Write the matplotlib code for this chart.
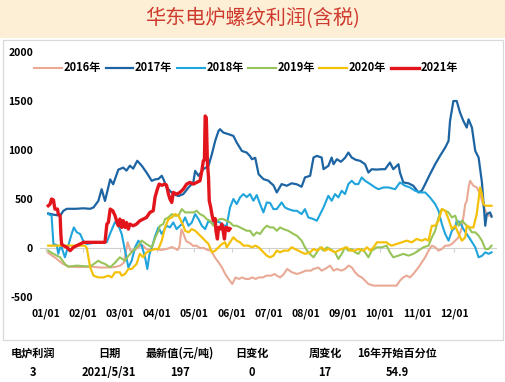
import matplotlib
matplotlib.use("Agg")
import matplotlib.pyplot as plt
from matplotlib.patches import Rectangle

plt.rcParams['font.family'] = ['Noto Sans CJK SC', 'DejaVu Sans']

# ---------------- data (x in month units: 0 = 01/01, 1 = 02/01, ...) ----------------
month_labels = ["01/01", "02/01", "03/01", "04/01", "05/01", "06/01",
                "07/01", "08/01", "09/01", "10/01", "11/01", "12/01"]
y_ticks = [-500, 0, 500, 1000, 1500, 2000]

x2016 = [0.06,0.25,0.45,0.6,0.9,1.2,1.5,1.85,2.0,2.1,2.2,2.28,2.4,2.5,2.6,2.7,2.8,2.95,3.1,3.25,3.4,3.55,3.6,3.65,3.7,3.78,3.88,3.97,4.05,4.15,4.25,4.35,4.45,4.55,4.65,4.74,4.83,4.92,5.02,5.11,5.2,5.29,5.38,5.47,5.56,5.65,5.74,5.85,5.94,6.07,6.16,6.22,6.31,6.4,6.5,6.63,6.77,6.9,7.0,7.14,7.21,7.34,7.43,7.52,7.66,7.75,7.84,7.97,8.06,8.15,8.24,8.33,8.42,8.51,8.6,8.69,8.83,8.96,9.1,9.32,9.45,9.54,9.63,9.72,9.81,9.9,10.04,10.13,10.22,10.31,10.4,10.49,10.58,10.67,10.76,10.85,10.94,11.03,11.12,11.21,11.3,11.34,11.39,11.43,11.52,11.61,11.7,11.75,11.84,11.93,12.01]
v2016 = [-50,-100,-160,-190,-195,-190,-200,-195,-180,-150,60,-30,-20,10,30,-10,-20,-10,-20,-10,10,-20,20,190,150,70,50,20,25,0,0,-20,-25,-95,-146,-197,-265,-316,-367,-300,-316,-300,-316,-316,-300,-316,-300,-300,-282,-282,-265,-282,-300,-270,-214,-248,-265,-248,-231,-231,-214,-200,-231,-214,-180,-231,-214,-231,-214,-180,-197,-248,-282,-300,-333,-367,-384,-384,-384,-384,-384,-333,-300,-282,-300,-265,-197,-146,-95,-27,24,7,-27,-10,24,24,41,75,109,210,448,480,618,686,635,618,550,482,380,330,330]

x2017 = [0.06,0.2,0.38,0.47,0.56,0.8,1.0,1.19,1.28,1.41,1.5,1.59,1.73,1.81,1.95,2.08,2.17,2.26,2.35,2.46,2.58,2.71,2.85,2.94,3.03,3.12,3.18,3.25,3.43,3.57,3.7,3.84,3.97,4.02,4.11,4.24,4.38,4.47,4.56,4.65,4.69,4.78,4.92,5.05,5.14,5.28,5.41,5.5,5.55,5.64,5.73,5.86,6.0,6.04,6.13,6.22,6.35,6.49,6.62,6.76,6.89,6.98,7.12,7.21,7.3,7.43,7.48,7.61,7.7,7.75,7.84,7.95,8.06,8.15,8.24,8.35,8.47,8.6,8.69,8.78,8.9,9.05,9.14,9.27,9.36,9.5,9.54,9.63,9.77,9.9,10.04,10.13,10.22,10.35,10.49,10.62,10.76,10.85,10.89,10.98,11.07,11.16,11.25,11.34,11.39,11.48,11.57,11.66,11.75,11.84,11.88,11.97,12.01]
v2017 = [353,340,330,380,400,400,405,400,414,480,600,480,700,650,800,820,790,840,810,890,840,770,685,700,705,737,690,617,550,530,550,617,670,787,737,804,838,957,1093,1195,1212,1178,1161,1144,1076,990,974,937,906,920,753,703,686,669,640,567,652,635,660,650,625,720,737,923,940,923,805,838,923,855,906,880,920,974,923,900,889,855,770,804,800,804,804,872,804,855,770,669,660,635,567,585,652,753,855,940,1025,1093,1296,1500,1500,1381,1296,1229,1313,1229,991,923,669,227,346,363,320]

x2018 = [0.06,0.15,0.2,0.29,0.33,0.4,0.51,0.6,0.69,0.75,0.83,0.92,1.0,1.1,1.25,1.45,1.64,1.73,1.86,1.95,2.04,2.13,2.22,2.31,2.4,2.49,2.58,2.67,2.73,2.79,2.85,2.94,3.03,3.12,3.25,3.34,3.43,3.52,3.66,3.75,3.84,3.93,4.02,4.11,4.2,4.29,4.38,4.51,4.6,4.69,4.78,4.87,4.96,5.05,5.14,5.23,5.32,5.41,5.5,5.59,5.68,5.77,5.86,5.95,6.04,6.13,6.22,6.35,6.44,6.53,6.67,6.76,6.89,6.98,7.07,7.21,7.3,7.39,7.48,7.61,7.7,7.79,7.88,7.97,8.06,8.15,8.24,8.33,8.42,8.51,8.6,8.74,8.87,8.96,9.1,9.23,9.41,9.54,9.68,9.81,9.95,10.08,10.22,10.35,10.49,10.58,10.67,10.76,10.85,10.94,11.03,11.07,11.16,11.25,11.34,11.43,11.57,11.66,11.75,11.84,11.93,12.01]
v2018 = [346,330,40,30,-60,30,-95,24,143,210,160,143,75,40,50,55,60,150,265,230,143,-27,-197,-130,7,75,24,-95,-214,-60,0,120,210,143,227,210,261,193,244,312,227,260,346,295,227,193,278,244,270,261,230,227,414,500,448,516,550,520,550,482,540,448,363,465,460,397,397,465,414,397,380,380,346,397,312,295,278,346,414,533,482,550,516,584,550,652,686,652,652,720,686,652,618,600,618,618,600,669,635,618,584,567,567,516,448,380,244,143,75,176,210,280,260,193,143,92,7,-95,-80,-44,-60,-44]

x2019 = [0.06,0.2,0.38,0.51,0.6,0.83,1.19,1.41,1.5,1.59,1.73,1.86,1.99,2.13,2.22,2.35,2.49,2.58,2.71,2.85,2.94,3.03,3.07,3.16,3.21,3.3,3.39,3.48,3.57,3.66,3.75,3.84,3.97,4.06,4.15,4.24,4.33,4.42,4.51,4.6,4.69,4.78,4.87,4.96,5.05,5.14,5.23,5.32,5.41,5.5,5.59,5.68,5.77,5.86,5.95,6.04,6.13,6.22,6.31,6.4,6.53,6.67,6.76,6.89,6.98,7.07,7.21,7.3,7.39,7.48,7.57,7.66,7.79,7.88,7.97,8.06,8.15,8.24,8.33,8.42,8.51,8.6,8.69,8.78,8.92,9.05,9.18,9.27,9.36,9.5,9.63,9.77,9.9,10.04,10.17,10.31,10.4,10.49,10.58,10.67,10.76,10.85,10.94,11.03,11.12,11.21,11.3,11.39,11.48,11.57,11.66,11.75,11.84,11.93,12.01]
v2019 = [-27,-60,-95,-163,-190,-180,-190,-130,-150,-163,-197,-150,-95,-130,-80,-27,24,75,40,7,100,176,227,244,295,312,346,330,330,397,363,363,363,380,346,330,295,278,227,278,295,295,278,261,227,227,210,193,176,176,126,160,143,193,227,210,210,176,210,193,176,143,126,75,7,-44,-95,-44,7,-27,7,-10,-44,-112,-60,7,-27,-10,-44,-60,-10,-44,-95,-27,7,7,24,-44,-95,-78,-60,-78,-60,-27,7,24,109,176,312,397,380,363,312,330,227,280,244,210,160,160,126,75,-10,-10,24]

x2020 = [0.06,0.38,0.74,1.05,1.1,1.19,1.28,1.41,1.55,1.68,1.77,1.86,1.99,2.04,2.13,2.22,2.31,2.44,2.53,2.62,2.71,2.85,2.94,3.03,3.12,3.21,3.3,3.39,3.48,3.57,3.61,3.7,3.75,3.84,3.93,4.02,4.11,4.2,4.29,4.38,4.47,4.56,4.65,4.74,4.83,4.87,4.96,5.05,5.14,5.23,5.32,5.46,5.55,5.64,5.73,5.82,5.95,6.04,6.13,6.22,6.31,6.4,6.53,6.62,6.71,6.8,6.89,6.98,7.12,7.21,7.3,7.43,7.52,7.61,7.7,7.79,7.88,7.97,8.11,8.2,8.33,8.42,8.56,8.65,8.74,8.83,8.92,9.05,9.18,9.23,9.32,9.45,9.59,9.72,9.86,9.99,10.13,10.22,10.31,10.4,10.49,10.58,10.67,10.76,10.85,10.94,11.03,11.12,11.21,11.3,11.34,11.43,11.52,11.61,11.7,11.75,11.79,11.84,12.01]
v2020 = [24,24,24,24,0,-197,-282,-300,-300,-282,-300,-248,-248,-282,-265,-214,-214,-163,-60,-95,-44,-20,-10,-10,75,210,295,312,346,330,300,227,176,160,193,176,143,109,75,41,-44,-27,7,41,58,7,58,109,75,58,24,24,7,24,7,-27,-78,-95,-78,-27,-44,-27,-27,7,-10,-27,-44,-60,-44,-10,-27,7,-27,-10,-27,-44,-27,-10,7,-27,-27,-10,-27,7,-27,7,58,58,58,41,24,41,58,75,58,92,75,92,75,227,227,278,397,380,295,193,227,143,75,109,227,210,210,346,618,550,448,431,431]

x2021 = [0.06,0.11,0.15,0.2,0.24,0.31,0.33,0.38,0.4,0.42,0.47,0.56,0.65,0.74,0.83,0.92,1.01,1.59,1.64,1.68,1.73,1.8,1.86,1.9,1.95,1.99,2.04,2.08,2.13,2.17,2.22,2.26,2.35,2.44,2.53,2.62,2.71,2.8,2.89,2.94,3.0,3.05,3.12,3.21,3.25,3.3,3.34,3.39,3.43,3.52,3.61,3.7,3.79,3.88,3.97,4.06,4.15,4.2,4.24,4.27,4.29,4.32,4.33,4.35,4.38,4.4,4.44,4.47,4.51,4.56,4.58,4.62,4.65,4.69,4.74,4.78,4.81,4.84,4.88,4.92,4.96]
v2021 = [431,448,500,490,397,397,346,330,143,41,24,7,-27,7,24,41,58,58,244,260,397,380,330,280,227,295,210,280,210,260,193,244,227,244,278,295,312,363,380,520,600,652,640,652,640,550,500,465,567,550,567,600,652,669,652,669,686,787,889,900,1347,1330,1195,872,720,482,414,346,278,300,176,92,210,193,244,160,92,210,210,176,197]

series = [
    ("2016年", x2016, v2016, "#E9A995", 1.5),
    ("2017年", x2017, v2017, "#1D64A3", 1.6),
    ("2018年", x2018, v2018, "#1FA4DC", 1.5),
    ("2019年", x2019, v2019, "#97C459", 1.5),
    ("2020年", x2020, v2020, "#F4C10A", 1.6),
    ("2021年", x2021, v2021, "#E3151C", 2.4),
]

table_header = ["电炉利润", "日期", "最新值(元/吨)", "日变化", "周变化", "16年开始百分位"]
table_values = ["3", "2021/5/31", "197", "0", "17", "54.9"]

# ---------------- figure ----------------
W, H = 506, 382
fig = plt.figure(figsize=(W / 100, H / 100), dpi=100)
fig.patch.set_facecolor("white")

def fx(px):
    return px / W

def fy(py):
    return 1 - py / H

# title band
fig.patches.append(Rectangle((0, fy(38)), 1, 38 / H, transform=fig.transFigure,
                             facecolor="#FCEFD6", edgecolor="none", zorder=0))
fig.text(0.5, fy(19), "华东电炉螺纹利润(含税)", ha="center", va="center",
         fontsize=14.5, color="#CF3A2E")

# chart frame
fig.patches.append(Rectangle((fx(3), fy(340)), fx(500), 300 / H, transform=fig.transFigure,
                             facecolor="none", edgecolor="#D9D9D9", lw=0.9, zorder=0))

ax = fig.add_axes([fx(40), fy(297), fx(457), 245 / H])
ax.set_facecolor("none")
for s in ax.spines.values():
    s.set_visible(False)

ax.axhline(0, color="#D0D0D0", lw=0.8, zorder=1)
for name, xs, vs, col, lw in series:
    ax.plot(xs, vs, color=col, lw=lw, label=name, zorder=3 if name == "2021年" else 2,
            solid_joinstyle="round")

ax.set_xlim(-0.162, 12.156)
ax.set_ylim(-500, 2000)
ax.set_yticks(y_ticks)
ax.set_yticklabels([str(t) for t in y_ticks], fontsize=7.5, fontweight="bold")
ax.set_xticks(range(len(month_labels)))
ax.set_xticklabels(month_labels, fontsize=7.5, fontweight="bold")
ax.tick_params(axis="both", length=0)
ax.tick_params(axis="y", pad=5)
ax.tick_params(axis="x", pad=8)

sec = ax.secondary_xaxis(0.2)
sec.set_xticks(range(len(month_labels)))
sec.set_xticklabels([])
sec.tick_params(length=3, color="#D0D0D0", width=0.8)
sec.spines["bottom"].set_visible(False)

leg = ax.legend(loc="center", bbox_to_anchor=(fx(246), fy(68)), bbox_transform=fig.transFigure,
                ncol=6, frameon=False, handlelength=2.5, handletextpad=0.15,
                columnspacing=0.4, prop={"size": 8, "weight": "bold"})

# bottom table
col_x = [33, 109, 180, 252, 325, 397]
for cx, h, v in zip(col_x, table_header, table_values):
    fig.text(fx(cx), fy(353), h, ha="center", va="center", fontsize=8, fontweight="bold")
    fig.text(fx(cx), fy(372), v, ha="center", va="center", fontsize=8, fontweight="bold")

fig.savefig("out.png", dpi=100, facecolor="white")
